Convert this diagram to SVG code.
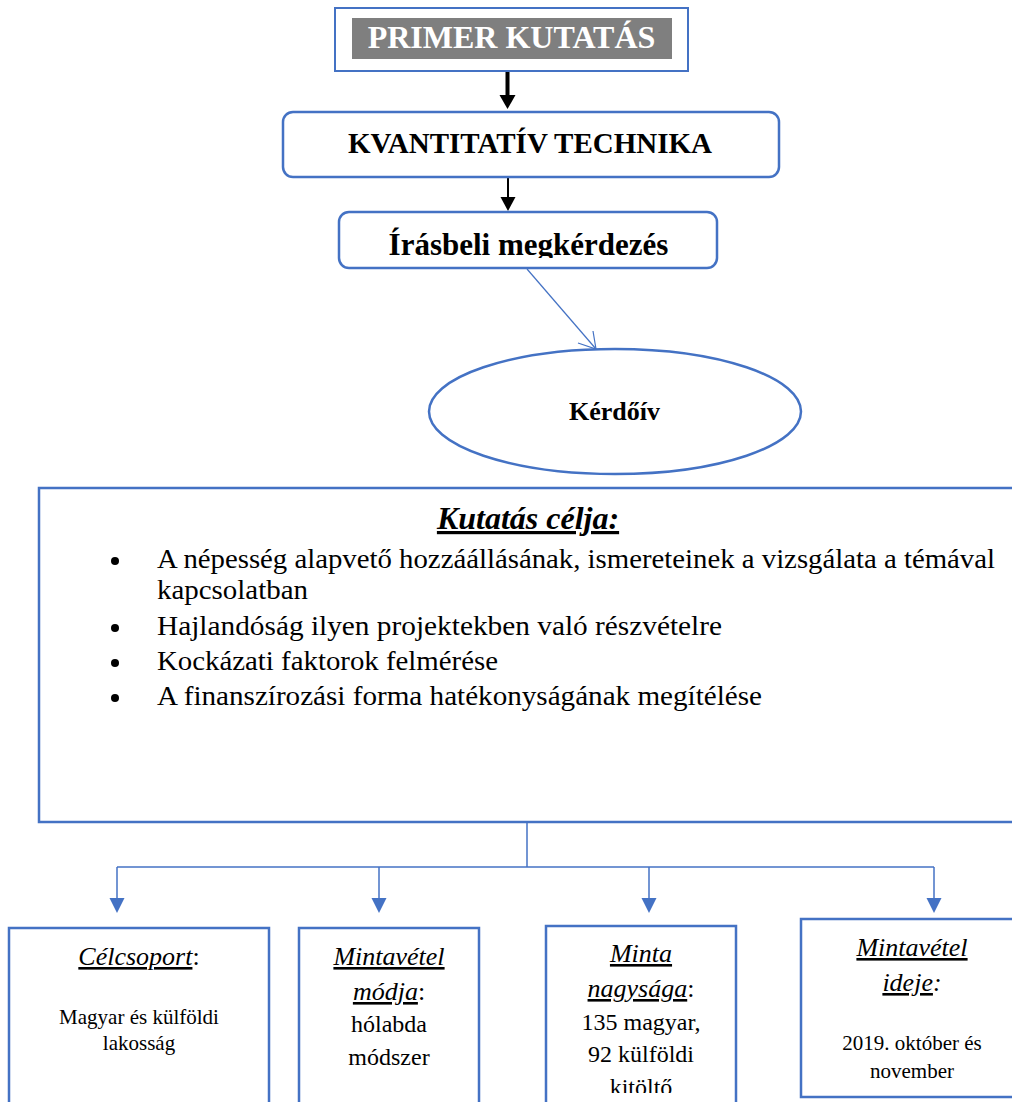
<svg xmlns="http://www.w3.org/2000/svg" width="1012" height="1102" viewBox="0 0 1012 1102">
  <style>
    text { font-family: "Liberation Serif", "Times New Roman", serif; fill: #000; }
    .box { fill: #fff; stroke: #4472C4; stroke-width: 2.5; }
    .bold { font-weight: bold; }
    .it { font-style: italic; }
    .u { text-decoration: underline; }
    .mid { text-anchor: middle; }
    .blue { stroke: #4472C4; stroke-width: 1.5; fill: none; }
    .bluehead { fill: #4472C4; }
    .bullet { font-size: 26.5px; }
    .head { font-size: 26px; }
  </style>
  <defs>
    <clipPath id="clipAsk"><rect x="339" y="212" width="378" height="46"/></clipPath>
    <clipPath id="clipSize"><rect x="546" y="926" width="190" height="167"/></clipPath>
  </defs>

  <!-- connectors -->
  <g id="connectors">
    <line x1="507.5" y1="71" x2="507.5" y2="97" stroke="#000" stroke-width="4"/>
    <polygon points="499.5,95 515.5,95 507.5,109" fill="#000"/>
    <line x1="508" y1="177" x2="508" y2="198" stroke="#000" stroke-width="2"/>
    <polygon points="500.5,197 515.5,197 508,211" fill="#000"/>
    <line x1="527" y1="269" x2="596" y2="349" stroke="#4472C4" stroke-width="1.2"/>
    <polyline points="578,343 596,349 593,331" fill="none" stroke="#4472C4" stroke-width="1.2"/>
    <line class="blue" x1="527" y1="822" x2="527" y2="867"/>
    <line class="blue" x1="117" y1="867" x2="934" y2="867"/>
    <line class="blue" x1="117" y1="867" x2="117" y2="899"/>
    <line class="blue" x1="379" y1="867" x2="379" y2="899"/>
    <line class="blue" x1="649" y1="867" x2="649" y2="899"/>
    <line class="blue" x1="934" y1="867" x2="934" y2="899"/>
    <polygon class="bluehead" points="109.5,898 124.5,898 117,913"/>
    <polygon class="bluehead" points="371.5,898 386.5,898 379,913"/>
    <polygon class="bluehead" points="641.5,898 656.5,898 649,913"/>
    <polygon class="bluehead" points="926.5,898 941.5,898 934,913"/>
  </g>

  <g id="primer">
    <rect class="box" x="335" y="8" width="353" height="63" style="stroke-width:2"/>
    <rect x="352" y="18" width="320" height="41" fill="#7F7F7F"/>
    <text class="bold mid" x="511.5" y="48" font-size="32" style="fill:#fff">PRIMER KUTATÁS</text>
  </g>

  <g id="kvantitativ">
    <rect class="box" x="283" y="112" width="496" height="65" rx="10"/>
    <text class="bold mid" x="530" y="153" font-size="29">KVANTITATÍV TECHNIKA</text>
  </g>

  <g id="irasbeli">
    <rect class="box" x="339" y="212" width="378" height="56" rx="10"/>
    <text class="bold mid" x="528.5" y="255" font-size="31" clip-path="url(#clipAsk)">Írásbeli megkérdezés</text>
  </g>

  <g id="kerdoiv">
    <ellipse class="box" cx="615" cy="411.5" rx="186" ry="62.5"/>
    <text class="bold mid" x="614.5" y="420" font-size="26">Kérdőív</text>
  </g>

  <g id="cel">
    <rect class="box" x="39" y="488" width="1000" height="334"/>
    <text class="bold it u mid" x="528" y="529" font-size="32">Kutatás célja:</text>
    <circle cx="115" cy="561" r="4"/>
    <circle cx="115" cy="628" r="4"/>
    <circle cx="115" cy="663" r="4"/>
    <circle cx="115" cy="698" r="4"/>
    <text class="bullet" x="157" y="568" textLength="838" lengthAdjust="spacingAndGlyphs">A népesség alapvető hozzáállásának, ismereteinek a vizsgálata a témával</text>
    <text class="bullet" x="157" y="599" textLength="151" lengthAdjust="spacingAndGlyphs">kapcsolatban</text>
    <text class="bullet" x="157" y="635" textLength="565" lengthAdjust="spacingAndGlyphs">Hajlandóság ilyen projektekben való részvételre</text>
    <text class="bullet" x="157" y="670" textLength="341" lengthAdjust="spacingAndGlyphs">Kockázati faktorok felmérése</text>
    <text class="bullet" x="157" y="705" textLength="605" lengthAdjust="spacingAndGlyphs">A finanszírozási forma hatékonyságának megítélése</text>
  </g>

  <g id="celcsoport">
    <rect class="box" x="9" y="928" width="260" height="190"/>
    <text class="head mid" x="139" y="965"><tspan class="it u">Célcsoport</tspan>:</text>
    <text class="mid" x="139" y="1024" font-size="21">Magyar és külföldi</text>
    <text class="mid" x="139" y="1050" font-size="21">lakosság</text>
  </g>

  <g id="mintavetel-modja">
    <rect class="box" x="299" y="928" width="180" height="190"/>
    <text class="head mid" x="389" y="965"><tspan class="it u">Mintavétel</tspan></text>
    <text class="head mid" x="389" y="1000"><tspan class="it u">módja</tspan>:</text>
    <text class="mid" x="389" y="1032" font-size="24">hólabda</text>
    <text class="mid" x="389" y="1065" font-size="24">módszer</text>
  </g>

  <g id="minta-nagysaga">
    <rect class="box" x="546" y="926" width="190" height="190"/>
    <text class="head mid" x="641" y="962"><tspan class="it u">Minta</tspan></text>
    <text class="head mid" x="641" y="997"><tspan class="it u">nagysága</tspan>:</text>
    <text class="mid" x="641" y="1030" font-size="24">135 magyar,</text>
    <text class="mid" x="641" y="1062" font-size="24">92 külföldi</text>
    <text class="mid" x="641" y="1095" font-size="24" clip-path="url(#clipSize)">kitöltő</text>
  </g>

  <g id="mintavetel-ideje">
    <rect class="box" x="801" y="919" width="240" height="178"/>
    <text class="head mid" x="912" y="956"><tspan class="it u">Mintavétel</tspan></text>
    <text class="head mid it" x="912" y="991"><tspan class="u">ideje</tspan>:</text>
    <text class="mid" x="912" y="1050" font-size="21">2019. október és</text>
    <text class="mid" x="912" y="1078" font-size="21">november</text>
  </g>
</svg>
